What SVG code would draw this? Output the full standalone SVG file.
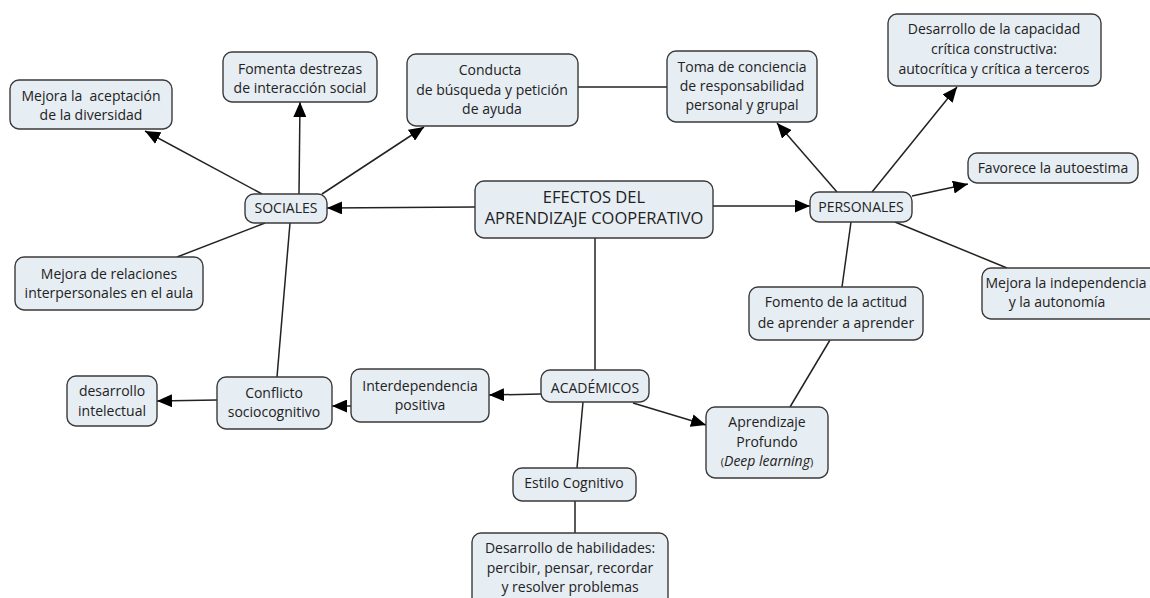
<svg xmlns="http://www.w3.org/2000/svg" width="1150" height="598" viewBox="0 0 1150 598">
<style>
.box{fill:#e6edf3;stroke:#3a3a3a;stroke-width:1.4}
.t{font-family:"Open Sans","DejaVu Sans",sans-serif;font-size:14px;fill:#222;text-anchor:middle}
.big{font-size:16.5px}
.c{stroke:#222;stroke-width:1.5;fill:none}
.a{marker-end:url(#ah)}
</style>
<defs>
<marker id="ah" markerUnits="userSpaceOnUse" markerWidth="15" markerHeight="13" refX="15" refY="6.5" orient="auto">
<path d="M0,0 L15,6.5 L0,13 z" fill="#000"/>
</marker>
</defs>
<rect width="1150" height="598" fill="#fff"/>
<g id="connectors">
<path class="c a" d="M475,207 L327,208"/>
<path class="c a" d="M713,206 L810,206"/>
<path class="c" d="M595,238 L595,370"/>
<path class="c a" d="M262,194 L145,131"/>
<path class="c a" d="M299,194 L300,102"/>
<path class="c a" d="M322,194 L424,127"/>
<path class="c" d="M578,87 L667,87"/>
<path class="c" d="M265,223 L177,257"/>
<path class="c" d="M290,223 L277,377"/>
<path class="c a" d="M837,192 L777,123"/>
<path class="c a" d="M872,192 L957,87"/>
<path class="c a" d="M912,196 L968,184"/>
<path class="c" d="M895,222 L1007,268"/>
<path class="c" d="M851,222 L842,287"/>
<path class="c" d="M830,340 L790,407"/>
<path class="c a" d="M541,394 L489,395"/>
<path class="c a" d="M633,403 L706,425"/>
<path class="c" d="M583,402 L577,468"/>
<path class="c" d="M575,501 L575,533"/>
<path class="c a" d="M351,406 L332,406"/>
<path class="c a" d="M217,400 L157,401"/>
</g>
<g id="n-aceptacion">
<rect class="box" x="10" y="80" width="162" height="49" rx="9"/>
<text class="t" x="91" y="101" style="white-space:pre">Mejora la  aceptación</text>
<text class="t" x="91" y="120">de la diversidad</text>
</g>
<g id="n-fomenta">
<rect class="box" x="223" y="52" width="154" height="50" rx="9"/>
<text class="t" x="300" y="74">Fomenta destrezas</text>
<text class="t" x="300" y="93">de interacción social</text>
</g>
<g id="n-conducta">
<rect class="box" x="407" y="54" width="171" height="72" rx="9"/>
<text class="t" x="490" y="75">Conducta</text>
<text class="t" x="492" y="95">de búsqueda y petición</text>
<text class="t" x="492" y="114">de ayuda</text>
</g>
<g id="n-toma">
<rect class="box" x="667" y="51" width="150" height="71" rx="9"/>
<text class="t" x="742" y="72">Toma de conciencia</text>
<text class="t" x="742" y="91">de responsabilidad</text>
<text class="t" x="742" y="110">personal y grupal</text>
</g>
<g id="n-critica">
<rect class="box" x="888" y="14" width="213" height="72" rx="9"/>
<text class="t" x="994" y="34">Desarrollo de la capacidad</text>
<text class="t" x="994" y="54">crítica constructiva:</text>
<text class="t" x="994" y="74">autocrítica y crítica a terceros</text>
</g>
<g id="n-autoestima">
<rect class="box" x="968" y="153" width="170" height="30" rx="9"/>
<text class="t" x="1053" y="173">Favorece la autoestima</text>
</g>
<g id="n-personales">
<rect class="box" x="810" y="192" width="102" height="30" rx="9"/>
<text class="t" x="861" y="212">PERSONALES</text>
</g>
<g id="n-independencia">
<rect class="box" x="982" y="268" width="185" height="51" rx="9"/>
<text class="t" x="1066" y="288" font-size="13.5">Mejora la independencia</text>
<text class="t" x="1057" y="307">y la autonomía</text>
</g>
<g id="n-fomento">
<rect class="box" x="749" y="287" width="174" height="53" rx="9"/>
<text class="t" x="836" y="307">Fomento de la actitud</text>
<text class="t" x="836" y="328">de aprender a aprender</text>
</g>
<g id="n-efectos">
<rect class="box" x="475" y="181" width="238" height="57" rx="9"/>
<text class="t big" x="594" y="203">EFECTOS DEL</text>
<text class="t big" x="594" y="224">APRENDIZAJE COOPERATIVO</text>
</g>
<g id="n-sociales">
<rect class="box" x="245" y="194" width="82" height="29" rx="9"/>
<text class="t" x="286" y="213">SOCIALES</text>
</g>
<g id="n-relaciones">
<rect class="box" x="15" y="257" width="188" height="53" rx="9"/>
<text class="t" x="109" y="279">Mejora de relaciones</text>
<text class="t" x="109" y="298">interpersonales en el aula</text>
</g>
<g id="n-intelectual">
<rect class="box" x="67" y="376" width="90" height="50" rx="9"/>
<text class="t" x="112" y="396">desarrollo</text>
<text class="t" x="112" y="416">intelectual</text>
</g>
<g id="n-conflicto">
<rect class="box" x="217" y="377" width="115" height="52" rx="9"/>
<text class="t" x="274" y="398">Conflicto</text>
<text class="t" x="274" y="417">sociocognitivo</text>
</g>
<g id="n-interdependencia">
<rect class="box" x="351" y="369" width="138" height="53" rx="9"/>
<text class="t" x="420" y="391">Interdependencia</text>
<text class="t" x="420" y="410">positiva</text>
</g>
<g id="n-academicos">
<rect class="box" x="541" y="370" width="108" height="32" rx="9"/>
<text class="t" x="595" y="393">ACADÉMICOS</text>
</g>
<g id="n-profundo">
<rect class="box" x="706" y="407" width="122" height="71" rx="9"/>
<text class="t" x="767" y="427">Aprendizaje</text>
<text class="t" x="767" y="447">Profundo</text>
<text class="t" x="767" y="466"><tspan font-size="11">(</tspan><tspan font-style="italic">Deep learning</tspan><tspan font-size="11">)</tspan></text>
</g>
<g id="n-estilo">
<rect class="box" x="513" y="468" width="123" height="33" rx="9"/>
<text class="t" x="574" y="488">Estilo Cognitivo</text>
</g>
<g id="n-habilidades">
<rect class="box" x="472" y="533" width="196" height="75" rx="9"/>
<text class="t" x="570" y="553">Desarrollo de habilidades:</text>
<text class="t" x="570" y="573">percibir, pensar, recordar</text>
<text class="t" x="570" y="592">y resolver problemas</text>
</g>
</svg>
